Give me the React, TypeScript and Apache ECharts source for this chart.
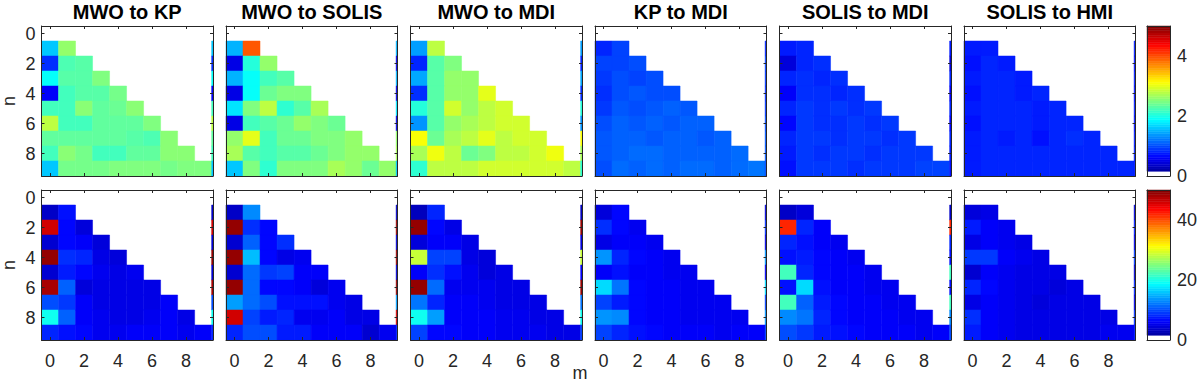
import React, { useEffect, useRef } from "react";
import * as echarts from "echarts";

// ---------- data ----------
const panelTitles = ["MWO to KP", "MWO to SOLIS", "MWO to MDI", "KP to MDI", "SOLIS to MDI", "SOLIS to HMI"];
const axisTickValues = [0, 2, 4, 6, 8];
const topScaleMax = 5;
const bottomScaleMax = 50;
const topColorbarTicks = [0, 2, 4];
const bottomColorbarTicks = [0, 20, 40];
const xAxisName = "m";
const yAxisName = "n";

// rows are n = 1..9, entries are m = 0..n
const topMwoKp = [
  [1.6, 2.6],
  [0.85, 2.25, 2.3],
  [1.9, 2.3, 2.3, 2.5],
  [0.6, 2.2, 2.3, 2.3, 2.45],
  [2.2, 2.2, 2.55, 2.35, 2.4, 2.55],
  [2.8, 2.2, 2.2, 2.35, 2.35, 2.35, 2.5],
  [2.35, 2.35, 2.35, 2.35, 2.35, 2.3, 2.25, 2.55],
  [2.2, 2.55, 2.45, 2.2, 2.2, 2.35, 2.35, 2.55, 2.55],
  [1.6, 2.45, 2.45, 2.45, 2.5, 2.5, 2.5, 2.45, 2.5, 2.5],
];
const topMwoSolis = [
  [1.5, 3.95],
  [0.5, 2.05, 2.6],
  [1.5, 1.9, 2.2, 2.3],
  [0.5, 1.9, 2.4, 2.5, 2.5],
  [1.75, 2.5, 2.8, 2.1, 2.3, 2.7],
  [0.5, 2.2, 2.3, 2.4, 2.6, 2.5, 2.4],
  [2.6, 3.0, 2.2, 2.4, 2.4, 2.5, 2.5, 2.6],
  [2.7, 2.3, 2.2, 2.3, 2.3, 2.4, 2.5, 2.6, 2.6],
  [1.6, 2.5, 2.1, 2.5, 2.5, 2.5, 2.7, 2.6, 2.4, 2.6],
];
const topMwoMdi = [
  [1.4, 2.8],
  [0.8, 2.3, 2.5],
  [1.45, 2.3, 2.6, 2.6],
  [0.85, 2.3, 2.6, 2.6, 3.0],
  [2.05, 2.3, 2.9, 2.6, 2.8, 2.9],
  [1.35, 2.3, 2.6, 2.7, 2.8, 2.9, 2.9],
  [3.1, 2.4, 2.7, 2.8, 3.0, 2.8, 2.9, 2.9],
  [2.7, 3.05, 2.8, 2.4, 2.5, 2.8, 2.8, 2.9, 3.05],
  [2.1, 2.8, 2.8, 2.8, 2.9, 2.9, 2.9, 2.9, 2.9, 2.8],
];
const topKpMdi = [
  [0.8, 0.95],
  [0.95, 0.95, 1.0],
  [0.9, 1.0, 0.95, 1.0],
  [0.85, 1.0, 1.05, 1.0, 1.0],
  [0.9, 1.05, 1.0, 1.05, 1.1, 1.05],
  [1.0, 1.1, 1.05, 1.1, 1.05, 1.1, 1.1],
  [1.05, 1.1, 1.1, 1.05, 1.1, 1.1, 1.05, 1.1],
  [1.05, 1.1, 1.15, 1.15, 1.1, 1.1, 1.1, 1.1, 1.15],
  [1.0, 1.15, 1.1, 1.15, 1.1, 1.15, 1.15, 1.1, 1.15, 1.2],
];
const topSolisMdi = [
  [0.75, 0.8],
  [0.45, 0.8, 0.85],
  [0.8, 0.85, 0.8, 0.85],
  [0.6, 0.85, 0.85, 0.8, 0.85],
  [0.8, 0.9, 0.85, 0.9, 0.85, 0.9],
  [0.65, 0.9, 0.85, 0.85, 0.9, 0.85, 0.9],
  [0.8, 0.9, 0.9, 0.85, 0.9, 0.9, 0.85, 0.9],
  [0.75, 0.9, 0.85, 0.9, 0.9, 0.85, 0.9, 0.9, 0.9],
  [0.7, 0.9, 0.9, 0.9, 0.85, 0.9, 0.9, 0.9, 0.95, 0.95],
];
const topSolisHmi = [
  [0.75, 0.75],
  [0.7, 0.8, 0.75],
  [0.75, 0.8, 0.8, 0.75],
  [0.7, 0.8, 0.8, 0.75, 0.8],
  [0.75, 0.8, 0.8, 0.8, 0.75, 0.8],
  [0.7, 0.8, 0.8, 0.8, 0.75, 0.8, 0.8],
  [0.75, 0.8, 0.75, 0.8, 0.7, 0.8, 0.85, 0.8],
  [0.75, 0.8, 0.8, 0.8, 0.8, 0.8, 0.8, 0.8, 0.8],
  [0.75, 0.8, 0.8, 0.8, 0.8, 0.8, 0.8, 0.8, 0.8, 0.8],
];

const bottomMwoKp = [
  [3.5, 7.0],
  [46, 6.5, 4.5],
  [4.0, 6.5, 6.0, 4.5],
  [49, 8.5, 8.0, 5.0, 4.5],
  [4.0, 7.5, 6.5, 5.5, 5.0, 5.5],
  [48, 11, 4.5, 5.0, 5.0, 5.0, 5.0],
  [10, 9.0, 6.0, 5.0, 5.0, 5.0, 5.0, 6.0],
  [19.5, 11, 6.0, 5.5, 5.0, 5.0, 5.5, 6.0, 5.0],
  [8.0, 7.0, 6.5, 5.5, 5.5, 6.0, 6.0, 6.0, 5.5, 6.0],
];
const bottomMwoSolis = [
  [3.5, 13],
  [49, 8.5, 6.5],
  [4.0, 11, 6.5, 8.5],
  [49, 15.5, 6.5, 5.0, 5.5],
  [4.0, 11.5, 9.0, 9.5, 6.0, 6.0],
  [49, 11.5, 6.5, 6.5, 6.0, 4.5, 5.5],
  [14, 11.5, 10, 7.0, 7.0, 7.0, 5.5, 5.0],
  [46, 9.5, 7.5, 8.0, 5.5, 5.5, 6.0, 5.0, 5.0],
  [8.0, 10, 10, 7.5, 7.5, 6.0, 6.0, 6.0, 4.0, 5.5],
];
const bottomMwoMdi = [
  [3.0, 8.0],
  [49, 6.5, 5.0],
  [4.5, 6.0, 6.0, 5.0],
  [28.5, 9.5, 9.5, 5.0, 4.5],
  [6.0, 8.5, 7.0, 5.5, 4.5, 5.0],
  [49, 11.5, 5.5, 5.5, 5.5, 5.0, 5.0],
  [12, 8.0, 6.0, 6.0, 5.5, 5.0, 5.0, 5.0],
  [19.5, 14, 6.0, 6.0, 6.0, 5.5, 5.5, 5.0, 5.0],
  [9.5, 6.5, 6.5, 6.0, 6.0, 5.5, 5.5, 5.5, 5.0, 5.0],
];
const bottomKpMdi = [
  [4.5, 6.5],
  [8.5, 6.5, 5.5],
  [5.0, 6.0, 6.0, 5.5],
  [13.5, 8.0, 6.5, 6.0, 5.5],
  [6.0, 7.0, 6.0, 6.0, 5.5, 5.5],
  [17, 12, 6.5, 6.0, 6.0, 5.5, 5.5],
  [9.5, 7.5, 6.5, 6.0, 6.0, 5.5, 5.5, 5.5],
  [13.5, 13, 6.5, 6.0, 6.0, 5.5, 5.5, 5.5, 5.5],
  [9.5, 8.0, 7.0, 6.5, 6.0, 6.0, 6.0, 5.5, 6.0, 6.0],
];
const bottomSolisMdi = [
  [3.5, 4.5],
  [42, 8.0, 6.0],
  [8.0, 7.0, 6.0, 5.5],
  [7.0, 7.5, 6.5, 6.0, 5.5],
  [22, 8.0, 6.5, 6.0, 6.0, 5.5],
  [7.0, 17, 7.0, 6.0, 6.0, 5.5, 5.5],
  [22, 11, 7.5, 6.5, 6.0, 6.0, 5.5, 5.5],
  [13, 12, 8.0, 6.5, 6.0, 6.0, 6.0, 5.5, 5.5],
  [10, 9.0, 7.5, 7.0, 6.5, 6.0, 6.0, 6.0, 5.5, 6.0],
];
const bottomSolisHmi = [
  [4.5, 5.0],
  [7.5, 6.0, 5.5],
  [5.0, 6.0, 5.5, 5.0],
  [9.0, 9.0, 6.0, 5.5, 5.0],
  [4.0, 6.0, 5.5, 5.0, 5.0, 5.0],
  [8.0, 6.5, 5.5, 5.0, 5.0, 4.5, 5.0],
  [5.0, 6.0, 5.5, 5.0, 4.5, 5.0, 5.0, 5.0],
  [8.5, 6.0, 5.5, 5.0, 5.0, 5.0, 5.0, 5.0, 5.0],
  [7.5, 6.0, 5.5, 5.0, 5.0, 5.0, 5.0, 5.0, 5.5, 5.5],
];

const topRowPanels = [topMwoKp, topMwoSolis, topMwoMdi, topKpMdi, topSolisMdi, topSolisHmi];
const bottomRowPanels = [bottomMwoKp, bottomMwoSolis, bottomMwoMdi, bottomKpMdi, bottomSolisMdi, bottomSolisHmi];

// ---------- style / layout ----------
const FONT = "'Liberation Sans', Arial, Helvetica, sans-serif";
const INK = "#262626";
const PANEL_LEFT = 41.5;
const PANEL_PITCH = 184.5;
const PANEL_W = 171.5;
const PANEL_H = 150;
const ROW_TOPS = [26, 190];
const CBAR_LEFT = 1147;
const CBAR_W = 23;
const X_MIN = -0.5;
const X_MAX = 9.58;
const Y_MIN = -0.5;
const Y_MAX = 9.5;
const CMAP_BINS = 64;
const WHITE_BINS = 2;

const clamp01 = (x: number) => Math.max(0, Math.min(1, x));
function jet(t: number): string {
  const r = clamp01(1.5 - Math.abs(4 * t - 3));
  const g = clamp01(1.5 - Math.abs(4 * t - 2));
  const b = clamp01(1.5 - Math.abs(4 * t - 1));
  return `rgb(${Math.round(r * 255)},${Math.round(g * 255)},${Math.round(b * 255)})`;
}
function cellColor(t: number): string {
  if (t < WHITE_BINS / CMAP_BINS) return "#ffffff";
  return jet(clamp01(t));
}

function makeAxis(opts: any) {
  return {
    type: "value",
    gridIndex: opts.gridIndex,
    position: opts.position,
    min: opts.min,
    max: opts.max,
    inverse: !!opts.inverse,
    z: 10,
    axisLine: { show: true, onZero: false, lineStyle: { color: INK, width: 1 } },
    axisTick: {
      show: !!opts.ticks,
      inside: true,
      length: 3,
      customValues: opts.ticks || [],
      lineStyle: { color: INK, width: 1 },
    },
    axisLabel: {
      show: !!opts.labels,
      customValues: opts.labels || [],
      margin: opts.margin ?? 8,
      fontSize: 18,
      color: INK,
      fontFamily: FONT,
    },
    splitLine: { show: false },
  };
}

function buildOption() {
  const grid: any[] = [];
  const xAxis: any[] = [];
  const yAxis: any[] = [];
  const series: any[] = [];
  const graphic: any[] = [];

  const rows = [topRowPanels, bottomRowPanels];
  const scaleMax = [topScaleMax, bottomScaleMax];
  const cbarTicks = [topColorbarTicks, bottomColorbarTicks];

  rows.forEach((panels, r) => {
    panels.forEach((panel, c) => {
      const g = grid.length;
      grid.push({ left: PANEL_LEFT + c * PANEL_PITCH, top: ROW_TOPS[r], width: PANEL_W, height: PANEL_H, containLabel: false });
      const xi = xAxis.length;
      xAxis.push(makeAxis({ gridIndex: g, position: "bottom", min: X_MIN, max: X_MAX, ticks: axisTickValues, labels: r === 1 ? axisTickValues : null, margin: 12 }));
      xAxis.push(makeAxis({ gridIndex: g, position: "top", min: X_MIN, max: X_MAX, ticks: axisTickValues }));
      const yi = yAxis.length;
      yAxis.push(makeAxis({ gridIndex: g, position: "left", min: Y_MIN, max: Y_MAX, inverse: true, ticks: axisTickValues, labels: c === 0 ? axisTickValues : null, margin: 6 }));
      yAxis.push(makeAxis({ gridIndex: g, position: "right", min: Y_MIN, max: Y_MAX, inverse: true, ticks: axisTickValues }));

      const data: number[][] = [];
      panel.forEach((row, i) => {
        row.forEach((v, m) => data.push([m, i + 1, v]));
        data.push([row.length > 0 ? 10 : 10, i + 1, row[0]]); // periodic wrap column (m = 10 repeats m = 0)
      });
      const vmax = scaleMax[r];
      series.push({
        type: "custom",
        xAxisIndex: xi,
        yAxisIndex: yi,
        data,
        z: 2,
        renderItem: (params: any, api: any) => {
          const m = api.value(0);
          const n = api.value(1);
          const v = api.value(2);
          const x0 = Math.max(m - 0.5, X_MIN);
          const x1 = Math.min(m + 0.5, X_MAX);
          if (x1 <= x0) return null;
          const p0 = api.coord([x0, n - 0.5]);
          const p1 = api.coord([x1, n + 0.5]);
          const color = cellColor(v / vmax);
          return {
            type: "rect",
            shape: {
              x: Math.min(p0[0], p1[0]),
              y: Math.min(p0[1], p1[1]),
              width: Math.abs(p1[0] - p0[0]),
              height: Math.abs(p1[1] - p0[1]),
            },
            style: { fill: color, stroke: color, lineWidth: 0.5 },
          };
        },
      });

      if (r === 0) {
        graphic.push({
          type: "text",
          x: PANEL_LEFT + c * PANEL_PITCH + PANEL_W / 2,
          y: 12,
          style: { text: panelTitles[c], align: "center", verticalAlign: "middle", fontSize: 20, fontWeight: "bold", fontFamily: FONT, fill: "#000" },
        });
      }
    });

    // colorbar
    const g = grid.length;
    const vmax = scaleMax[r];
    grid.push({ left: CBAR_LEFT, top: ROW_TOPS[r], width: CBAR_W, height: PANEL_H, containLabel: false });
    const xi = xAxis.length;
    xAxis.push(makeAxis({ gridIndex: g, position: "bottom", min: 0, max: 1 }));
    xAxis.push(makeAxis({ gridIndex: g, position: "top", min: 0, max: 1 }));
    const yi = yAxis.length;
    yAxis.push(makeAxis({ gridIndex: g, position: "left", min: 0, max: vmax }));
    yAxis.push(makeAxis({ gridIndex: g, position: "right", min: 0, max: vmax, labels: cbarTicks[r], margin: 7 }));
    const bins = Array.from({ length: CMAP_BINS }, (_, i) => [i]);
    series.push({
      type: "custom",
      xAxisIndex: xi,
      yAxisIndex: yi,
      data: bins,
      z: 2,
      renderItem: (params: any, api: any) => {
        const i = api.value(0);
        const lo = (i / CMAP_BINS) * vmax;
        const hi = ((i + 1) / CMAP_BINS) * vmax;
        const p0 = api.coord([0, lo]);
        const p1 = api.coord([1, hi]);
        const color = i < WHITE_BINS ? "#ffffff" : jet((i + 0.5) / CMAP_BINS);
        return {
          type: "rect",
          shape: {
            x: Math.min(p0[0], p1[0]),
            y: Math.min(p0[1], p1[1]),
            width: Math.abs(p1[0] - p0[0]),
            height: Math.abs(p1[1] - p0[1]),
          },
          style: { fill: color, stroke: color, lineWidth: 0.5 },
        };
      },
    });

    graphic.push({
      type: "text",
      x: 9,
      y: ROW_TOPS[r] + PANEL_H / 2,
      rotation: Math.PI / 2,
      style: { text: yAxisName, align: "center", verticalAlign: "middle", fontSize: 18, fontFamily: FONT, fill: INK },
    });
  });

  graphic.push({
    type: "text",
    x: 580,
    y: 373,
    style: { text: xAxisName, align: "center", verticalAlign: "middle", fontSize: 18, fontFamily: FONT, fill: INK },
  });

  return {
    animation: false,
    backgroundColor: "#ffffff",
    textStyle: { fontFamily: FONT },
    grid,
    xAxis,
    yAxis,
    series,
    graphic,
  };
}

export default function App() {
  const ref = useRef<HTMLDivElement | null>(null);
  useEffect(() => {
    if (!ref.current) return;
    const chart = echarts.init(ref.current, undefined, { renderer: "svg" });
    chart.setOption(buildOption() as any);
    return () => chart.dispose();
  }, []);
  return <div ref={ref} style={{ position: "absolute", left: 0, top: 0, width: 1200, height: 382 }} />;
}
